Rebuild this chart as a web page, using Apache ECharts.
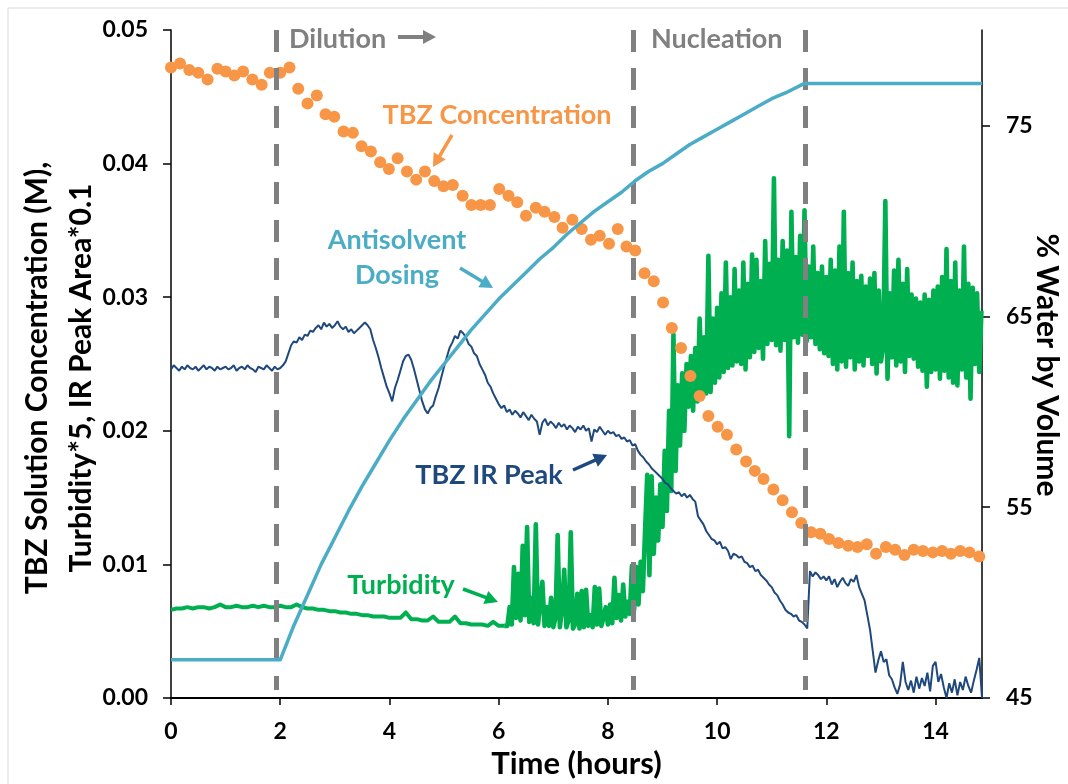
<!DOCTYPE html>
<html><head><meta charset="utf-8">
<script src="https://cdn.jsdelivr.net/npm/echarts@6/dist/echarts.min.js"></script>
<style>html,body{margin:0;padding:0;background:#fff}#c{width:1068px;height:784px}</style>
</head><body><div id="c"></div>
<script>
// ---------- data ----------
const xTicks = [0, 2, 4, 6, 8, 10, 12, 14];
const leftTicks = [0, 0.01, 0.02, 0.03, 0.04, 0.05];
const rightTicks = [45, 55, 65, 75];
const phaseLines = [1.92, 8.47, 11.61];

// TBZ concentration (M), offline samples
const concTimes = [0,0.165,0.335,0.5,0.67,0.85,1.0,1.16,1.32,1.49,
  1.66,1.81,2.0,2.17,2.33,2.5,2.67,2.83,2.99,3.16,
  3.33,3.49,3.66,3.83,3.99,4.15,4.32,4.49,4.65,4.82,
  4.99,5.16,5.34,5.5,5.67,5.84,6.01,6.18,6.34,6.5,
  6.68,6.84,7.02,7.17,7.35,7.52,7.69,7.85,8.02,8.18,
  8.34,8.5,8.67,8.84,9.01,9.17,9.34,9.51,9.68,9.84,
  10.01,10.18,10.35,10.53,10.69,10.85,11.03,11.2,11.37,11.54,
  11.72,11.89,12.05,12.22,12.4,12.57,12.74,12.91,13.09,13.26,
  13.43,13.6,13.77,13.95,14.12,14.28,14.45,14.62,14.8];
const concValues = [.0472,.0475,.0470,.0468,.0463,.0471,.0469,.0466,.0469,.0463,
  .0459,.0468,.0468,.0472,.0456,.0445,.0451,.0437,.0435,.0424,
  .0423,.0413,.0409,.0401,.0396,.0404,.0394,.0388,.0394,.0387,
  .0383,.0384,.0376,.0369,.0369,.0369,.0381,.0376,.0371,.0361,
  .0367,.0364,.0360,.0352,.0358,.0351,.0343,.0346,.0340,.0351,
  .0338,.0335,.0318,.0312,.0296,.0277,.0262,.0241,.0226,.0211,
  .0203,.0197,.0186,.0177,.0170,.0164,.0156,.0148,.0139,.0131,
  .0124,.0123,.0119,.0116,.0114,.0113,.0115,.0108,.0113,.0111,
  .0107,.0111,.0110,.0109,.0110,.0108,.0110,.0109,.0106];

// % water by volume (antisolvent dosing), right axis
const waterTimes = [0,1.0,2.0,2.25,2.5,2.75,3.0,3.25,3.5,3.75,4.0,4.25,4.5,4.75,5.0,5.25,5.5,5.75,6.0,6.25,6.5,6.75,7.0,7.25,7.5,7.75,
  8.0,8.25,8.5,8.75,9.0,9.25,9.5,9.75,10.0,10.25,10.5,10.75,11.0,11.25,11.6,12.5,14.85];
const waterValues = [47.0,47.0,47.0,48.8,50.4,52.0,53.4,54.8,56.1,57.3,58.5,59.6,60.6,61.6,62.5,63.4,64.3,65.1,65.9,66.6,67.3,68.0,68.6,69.3,69.9,70.5,
  71.0,71.5,72.1,72.6,73.0,73.5,74.0,74.4,74.8,75.2,75.6,76.0,76.4,76.7,77.2,77.2,77.2];

// TBZ IR peak area * 0.1, sampled every 0.05 h from 0 h
const irStart = 0, irStep = 0.05;
const irValues = [
  .0246,.0249,.0247,.0245,.0248,.0246,.0249,.0247,.0246,.0248,.0245,.0247,.0249,.0246,.0248,.0247,.0245,.0248,.0246,.0247,
  .0248,.0246,.0247,.0249,.0245,.0247,.0248,.0246,.0249,.0247,.0246,.0244,.0248,.0247,.0246,.0249,.0247,.0245,.0248,.0246,
  .0247,.0249,.0252,.0258,.0264,.0267,.0266,.0270,.0268,.0272,.0271,.0275,.0274,.0277,.0279,.0276,.0281,.0278,.0280,.0277,
  .0279,.0282,.0278,.0276,.0278,.0274,.0276,.0273,.0275,.0277,.0279,.0281,.0279,.0276,.0268,.0262,.0255,.0247,.0240,.0233,
  .0228,.0222,.0232,.0238,.0245,.0252,.0256,.0257,.0253,.0246,.0238,.0230,.0222,.0216,.0213,.0217,.0219,.0226,.0232,.0240,
  .0248,.0255,.0262,.0266,.0271,.0269,.0275,.0273,.0270,.0265,.0263,.0258,.0256,.0250,.0246,.0242,.0236,.0233,.0228,.0224,
  .0220,.0217,.0219,.0214,.0216,.0212,.0215,.0213,.0210,.0214,.0211,.0208,.0212,.0209,.0207,.0197,.0206,.0209,.0204,.0207,
  .0205,.0202,.0206,.0203,.0205,.0201,.0204,.0202,.0199,.0203,.0201,.0204,.0200,.0202,.0192,.0201,.0199,.0203,.0200,.0197,
  .0200,.0198,.0199,.0196,.0197,.0194,.0195,.0192,.0193,.0189,.0190,.0185,.0182,.0180,.0177,.0175,.0172,.0170,.0168,.0166,
  .0164,.0161,.0160,.0157,.0155,.0153,.0154,.0151,.0153,.0150,.0152,.0149,.0147,.0136,.0133,.0130,.0125,.0122,.0119,.0118,
  .0115,.0117,.0112,.0113,.0110,.0104,.0108,.0107,.0105,.0106,.0102,.0101,.0098,.0099,.0095,.0096,.0092,.0090,.0088,.0085,
  .0083,.0079,.0077,.0073,.0070,.0066,.0064,.0063,.0061,.0062,.0058,.0057,.0055,.0052,.0095,.0091,.0094,.0092,.0089,.0091,
  .0088,.0091,.0085,.0089,.0083,.0087,.0090,.0086,.0084,.0089,.0087,.0092,.0083,.0078,.0073,.0062,.0051,.0035,.0019,.0028,
  .0035,.0027,.0029,.0017,.0014,.0008,.0003,.0010,.0027,.0012,.0006,.0013,.0004,.0016,.0007,.0015,.0009,.0019,.0005,.0024,
  .0027,.0012,.0018,.0008,.0000,.0011,.0004,.0014,.0002,.0012,.0006,.0016,.0009,.0004,.0013,.0021,.0030,.0000];

// Turbidity * 5: baseline every 0.1 h from 0 h, then every 0.04 h from 6.16 h
const turbBaseStart = 0, turbBaseStep = 0.1;
const turbBaseValues = [
  .0066,.0067,.0067,.0068,.0067,.0068,.0068,.0067,.0068,.0070,
  .0068,.0068,.0069,.0068,.0068,.0069,.0068,.0069,.0068,.0068,
  .0069,.0068,.0068,.0070,.0068,.0067,.0067,.0066,.0066,.0065,
  .0065,.0064,.0064,.0063,.0063,.0062,.0062,.0061,.0061,.0061,
  .0060,.0060,.0060,.0064,.0059,.0059,.0058,.0058,.0061,.0057,
  .0057,.0057,.0061,.0056,.0056,.0055,.0055,.0055,.0054,.0057,
  .0054,.0054];
const turbFineStart = 6.16, turbFineStep = 0.04;
const turbFineValues = [
  .0054,.0068,.0055,.0098,.0060,.0093,.0058,.0114,.0062,.0128,
  .0057,.0075,.0056,.0130,.0055,.0070,.0087,.0054,.0068,.0054,
  .0075,.0053,.0060,.0122,.0053,.0066,.0096,.0053,.0058,.0124,
  .0052,.0055,.0078,.0052,.0080,.0053,.0081,.0054,.0062,.0053,
  .0083,.0055,.0082,.0054,.0060,.0068,.0055,.0070,.0056,.0090,
  .0060,.0077,.0058,.0085,.0061,.0072,.0063,.0099,
  .0066,.0098,.0070,.0102,.0080,.0125,.0167,.0092,.0166,.0108,
  .0150,.0118,.0160,.0128,.0185,.0140,.0215,.0155,.0272,.0170,
  .0234,.0189,.0243,.0200,.0250,.0218,
  .0256,.0215,.0262,.0222,.0284,.0230,.0270,.0228,.0331,.0229,
  .0284,.0236,.0292,.0240,.0303,.0244,.0326,.0247,.0300,.0249,
  .0321,.0252,.0305,.0250,.0326,.0246,.0310,.0255,.0332,.0259,
  .0328,.0262,.0312,.0254,.0342,.0265,.0325,.0268,.0389,.0264,
  .0328,.0260,.0342,.0268,.0335,.0196,.0364,.0270,.0330,.0266,
  .0346,.0272,.0365,.0267,.0323,.0270,.0338,.0265,.0318,.0261,
  .0323,.0258,.0315,.0256,.0328,.0250,.0320,.0246,.0338,.0252,
  .0364,.0248,.0318,.0255,.0326,.0246,.0312,.0252,.0316,.0249,
  .0308,.0256,.0314,.0250,.0318,.0243,.0305,.0252,.0262,.0372,
  .0239,.0303,.0255,.0320,.0249,.0328,.0252,.0310,.0244,.0321,
  .0256,.0302,.0254,.0299,.0248,.0296,.0245,.0302,.0233,.0298,
  .0244,.0305,.0246,.0308,.0239,.0315,.0245,.0336,.0240,.0312,
  .0236,.0326,.0234,.0305,.0246,.0338,.0240,.0310,.0224,.0307,
  .0250,.0303,.0244,.0290];

// ---------- build series pairs ----------
const sampled = (start, step, vals) => vals.map((v, i) => [+(start + i * step).toFixed(3), v]);
const concData = concTimes.map((t, i) => [t, concValues[i]]);
const waterData = waterTimes.map((t, i) => [t, waterValues[i]]);
const irData = sampled(irStart, irStep, irValues);
const turbBaseData = sampled(turbBaseStart, turbBaseStep, turbBaseValues);
const turbFineData = [turbBaseData[turbBaseData.length - 1]].concat(sampled(turbFineStart, turbFineStep, turbFineValues));

const FONT = 'Lato';
const C_ORANGE = '#F79646', C_AQUA = '#4BACC6', C_NAVY = '#1F497D', C_GREEN = '#00B050', C_GRAY = '#808080';

function arrow(x1, y1, x2, y2, color, w, L, W) {
  const a = Math.atan2(y2 - y1, x2 - x1);
  const bx = x2 - L * Math.cos(a), by = y2 - L * Math.sin(a);
  const px = -Math.sin(a) * W, py = Math.cos(a) * W;
  return [
    { type: 'line', shape: { x1: x1, y1: y1, x2: bx + Math.cos(a) * 2, y2: by + Math.sin(a) * 2 }, style: { stroke: color, lineWidth: w }, z: 20 },
    { type: 'polygon', shape: { points: [[x2, y2], [bx + px, by + py], [bx - px, by - py]] }, style: { fill: color }, z: 20 }
  ];
}
function label(text, x, y, color, size, align, extra) {
  return Object.assign({ type: 'text', x: x, y: y, z: 20,
    style: { text: text, fill: color, font: 'bold ' + size + 'px ' + FONT,
      textAlign: align || 'center', align: align || 'center', textVerticalAlign: 'middle', verticalAlign: 'middle' } }, extra || {});
}

const chart = echarts.init(document.getElementById('c'), null, { renderer: 'canvas' });
chart.setOption({
  animation: false,
  backgroundColor: '#fff',
  textStyle: { fontFamily: FONT },
  grid: { left: 171, right: 86, top: 30, bottom: 84, containLabel: false },
  xAxis: {
    type: 'value', min: 0, max: 14.85, interval: 2,
    axisLine: { show: true, lineStyle: { color: '#000', width: 2 } },
    axisTick: { show: true, customValues: xTicks, length: 7, lineStyle: { color: '#000', width: 1.5 } },
    axisLabel: { customValues: xTicks, color: '#000', fontWeight: 'bold', fontSize: 23, fontFamily: FONT, margin: 22 },
    splitLine: { show: false },
    name: 'Time (hours)', nameLocation: 'middle', nameGap: 50,
    nameTextStyle: { color: '#000', fontWeight: 'bold', fontSize: 31, fontFamily: FONT }
  },
  yAxis: [{
    type: 'value', min: 0, max: 0.05, interval: 0.01, position: 'left',
    axisLine: { show: true, lineStyle: { color: '#000', width: 1.5 } },
    axisTick: { show: true, customValues: leftTicks, length: 8, lineStyle: { color: '#000', width: 1.5 } },
    axisLabel: { customValues: leftTicks, formatter: v => v.toFixed(2), color: '#000', fontWeight: 'bold', fontSize: 23, fontFamily: FONT, margin: 23 },
    splitLine: { show: false }
  }, {
    type: 'value', min: 45, max: 80, interval: 10, position: 'right',
    axisLine: { show: true, lineStyle: { color: '#000', width: 1.5 } },
    axisTick: { show: true, customValues: rightTicks, length: 8, lineStyle: { color: '#000', width: 1.5 } },
    axisLabel: { customValues: rightTicks, color: '#000', fontWeight: 'bold', fontSize: 23, fontFamily: FONT, margin: 24 },
    splitLine: { show: false }
  }],
  series: [
    { name: 'Turbidity', type: 'line', data: turbBaseData, showSymbol: false, symbol: 'none', z: 2,
      lineStyle: { color: C_GREEN, width: 4, join: 'round' }, itemStyle: { color: C_GREEN } },
    { name: 'Turbidity', type: 'line', data: turbFineData, showSymbol: false, symbol: 'none', z: 2,
      lineStyle: { color: C_GREEN, width: 4.6, join: 'round' }, itemStyle: { color: C_GREEN } },
    { name: 'TBZ IR Peak', type: 'line', data: irData, showSymbol: false, symbol: 'none', z: 3,
      lineStyle: { color: C_NAVY, width: 2 }, itemStyle: { color: C_NAVY } },
    { name: 'TBZ Concentration', type: 'scatter', data: concData, symbolSize: 12, z: 4,
      itemStyle: { color: C_ORANGE, opacity: 1 } },
    { name: 'Antisolvent Dosing', type: 'line', yAxisIndex: 1, data: waterData, showSymbol: false, symbol: 'none', z: 5,
      lineStyle: { color: C_AQUA, width: 3.5, join: 'round' }, itemStyle: { color: C_AQUA } },
    { name: 'phases', type: 'line', data: [], z: 10,
      markLine: { silent: true, symbol: ['none', 'none'], label: { show: false },
        lineStyle: { color: C_GRAY, width: 5, type: [22, 16] },
        data: phaseLines.map(x => [{ coord: [x, 0.05] }, { coord: [x, 0.0006] }]) } }
  ],
  graphic: [
    { type: 'rect', shape: { x: 8, y: 8, width: 1200, height: 900 }, style: { fill: 'none', stroke: '#d9d9d9', lineWidth: 1 }, z: -10 },
    label('', 59, 378, '#000', 30, 'center', { rotation: Math.PI / 2, style: { text: 'TBZ Solution Concentration (M),\nTurbidity*5, IR Peak Area*0.1', fill: '#000', font: 'bold 30px ' + FONT, textAlign: 'center', align: 'center', textVerticalAlign: 'middle', verticalAlign: 'middle', lineHeight: 44 } }),
    label('% Water by Volume', 1047, 365, '#000', 30, 'center', { rotation: -Math.PI / 2 }),
    label('Dilution', 289, 39, C_GRAY, 27, 'left'),
    label('Nucleation', 651, 39, C_GRAY, 27, 'left'),
    label('TBZ Concentration', 497, 115, C_ORANGE, 27),
    label('Antisolvent', 397, 240, C_AQUA, 27),
    label('Dosing', 397, 275, C_AQUA, 27),
    label('TBZ IR Peak', 489, 475, C_NAVY, 27),
    label('Turbidity', 401, 585, C_GREEN, 27),
    ...arrow(398, 37, 436, 37, C_GRAY, 4, 13, 7),
    ...arrow(452, 135, 433, 167, C_ORANGE, 3.5, 13, 7),
    ...arrow(460, 268, 493, 288, C_AQUA, 3.5, 13, 7),
    ...arrow(573, 470, 607, 455, C_NAVY, 3.5, 13, 7),
    ...arrow(463, 589, 498, 602, C_GREEN, 3.5, 13, 7)
  ]
});
</script>
</body></html>
